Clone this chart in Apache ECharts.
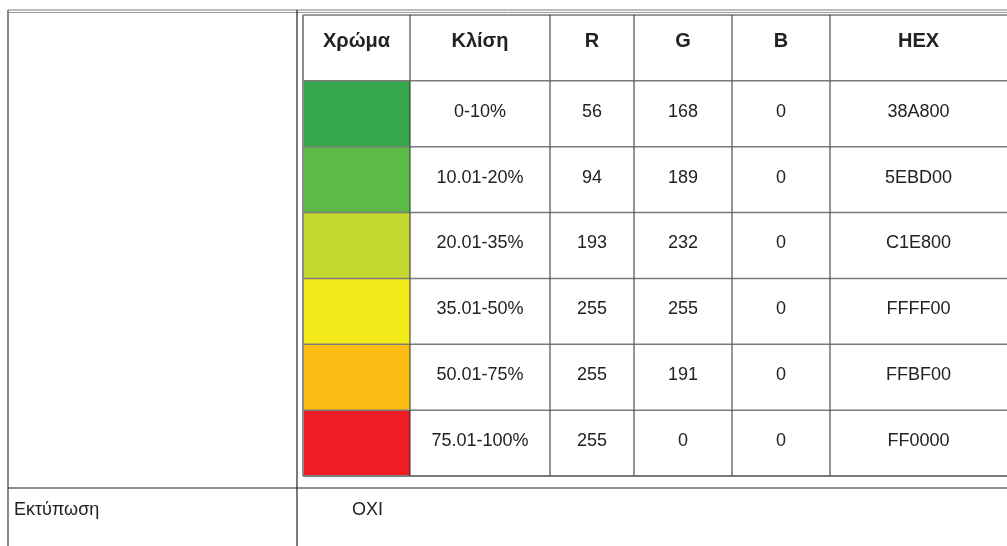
<!DOCTYPE html>
<html>
<head>
<meta charset="utf-8">
<script src="https://cdn.jsdelivr.net/npm/echarts@6/dist/echarts.min.js"></script>
<style>
  html, body { margin: 0; padding: 0; background: #fff; }
  #main { width: 1007px; height: 546px; }
</style>
</head>
<body>
<div id="main"></div>
<script>
// table content
var headers = ['Χρώμα', 'Κλίση', 'R', 'G', 'B', 'HEX'];
var ranges = ['0-10%', '10.01-20%', '20.01-35%', '35.01-50%', '50.01-75%', '75.01-100%'];
var rValues = [56, 94, 193, 255, 255, 255];
var gValues = [168, 189, 232, 255, 191, 0];
var bValues = [0, 0, 0, 0, 0, 0];
var hexCodes = ['38A800', '5EBD00', 'C1E800', 'FFFF00', 'FFBF00', 'FF0000'];
var printLabel = 'Εκτύπωση';
var printValue = 'OXI';

// swatch fills as they appear in the picture
var swatchFill = ['#34a84a', '#5cbb46', '#c2d82e', '#f4eb1a', '#fbbd14', '#ee1d25'];
// column edges (px from the inner table's left side)
var colEdges = [0, 107, 247, 331, 429, 527, 704];

var FONT = '"Liberation Sans", Arial, sans-serif';
var rowNames = ['head'].concat(ranges);

var cells = [];
for (var r = 0; r < rowNames.length; r++) {
  for (var c = 0; c < headers.length; c++) {
    var txt = '';
    if (r === 0) txt = headers[c];
    else {
      var i = r - 1;
      if (c === 1) txt = ranges[i];
      else if (c === 2) txt = String(rValues[i]);
      else if (c === 3) txt = String(gValues[i]);
      else if (c === 4) txt = String(bValues[i]);
      else if (c === 5) txt = hexCodes[i];
    }
    cells.push({ value: [c, r], text: txt });
  }
}

function renderCell(params, api) {
  var c = api.value(0), r = api.value(1);
  var p0 = api.coord([colEdges[c], r]);
  var p1 = api.coord([colEdges[c + 1], r]);
  var h = api.size([0, 1])[1];
  var x0 = p0[0], x1 = p1[0], yc = p0[1];
  var top = yc - h / 2, bot = yc + h / 2;
  var fill = (r > 0 && c === 0) ? swatchFill[r - 1] : '#fff';
  var item = cells[params.dataIndex];
  var kids = [
    { type: 'rect', shape: { x: x0, y: top, width: x1 - x0, height: h }, style: { fill: fill } },
    { type: 'line', shape: { x1: x0, y1: top, x2: x1, y2: top }, style: { stroke: '#7a7a7a', lineWidth: 1.5 } },
    { type: 'line', shape: { x1: x0, y1: top, x2: x0, y2: bot },
      style: { stroke: c === 0 ? '#8a8a8a' : '#2a2a2a', lineWidth: c === 0 ? 2 : 1 } }
  ];
  if (r === rowNames.length - 1) {
    kids.push({ type: 'line', shape: { x1: x0, y1: bot, x2: x1, y2: bot }, style: { stroke: '#7a7a7a', lineWidth: 2 } });
  }
  if (item.text) {
    kids.push({
      type: 'text',
      style: {
        text: item.text,
        x: (x0 + x1) / 2,
        y: r === 0 ? yc - 6 : yc - 2,
        align: 'center',
        verticalAlign: 'middle',
        fill: '#222',
        font: r === 0 ? 'bold 20px ' + FONT : '18px ' + FONT
      }
    });
  }
  return { type: 'group', children: kids };
}

var chart = echarts.init(document.getElementById('main'));
chart.setOption({
  animation: false,
  backgroundColor: '#fff',
  grid: { left: 303, top: 15, width: 704, height: 461 },
  xAxis: { type: 'value', min: 0, max: 704, show: false },
  yAxis: { type: 'category', data: rowNames, inverse: true, show: false },
  series: [{
    type: 'custom',
    renderItem: renderCell,
    data: cells,
    clip: false
  }],
  graphic: [
    // outer frame
    { type: 'line', shape: { x1: 8, y1: 10, x2: 1007, y2: 10 }, style: { stroke: '#7a7a7a', lineWidth: 1 } },
    { type: 'line', shape: { x1: 8, y1: 12.5, x2: 1007, y2: 12.5 }, style: { stroke: '#9a9a9a', lineWidth: 1 } },
    { type: 'line', shape: { x1: 8, y1: 10, x2: 8, y2: 546 }, style: { stroke: '#8a8a8a', lineWidth: 2 } },
    { type: 'line', shape: { x1: 297, y1: 10, x2: 297, y2: 546 }, style: { stroke: '#222', lineWidth: 1.2 } },
    { type: 'line', shape: { x1: 8, y1: 488, x2: 1007, y2: 488 }, style: { stroke: '#222', lineWidth: 1.2 } },
    { type: 'text', left: 14, top: 501, style: { text: printLabel, fill: '#222', font: '18px ' + FONT } },
    { type: 'text', left: 352, top: 501, style: { text: printValue, fill: '#222', font: '18px ' + FONT } }
  ]
});
</script>
</body>
</html>
